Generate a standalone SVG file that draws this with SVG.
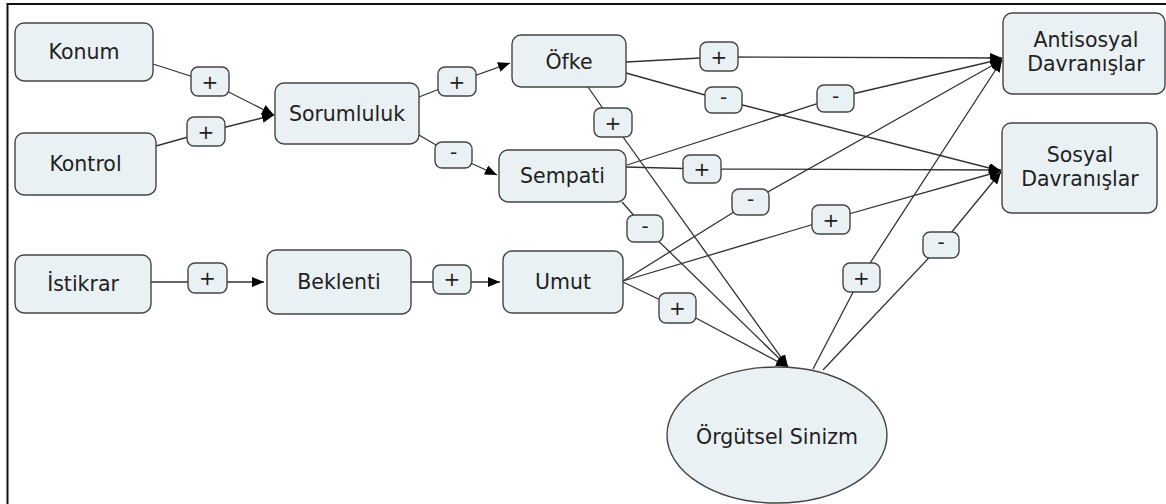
<svg xmlns="http://www.w3.org/2000/svg" width="1166" height="504" viewBox="0 0 1166 504">
<defs>
<marker id="arr" viewBox="0 0 12 10" refX="12" refY="5" markerWidth="12" markerHeight="10" markerUnits="userSpaceOnUse" orient="auto">
<path d="M0,0 L12,5 L0,10 z" fill="#000"/>
</marker>
<style>
.n{fill:#eaf1f4;stroke:#444;stroke-width:1.4}
.t{font-family:"DejaVu Sans",Verdana,sans-serif;font-size:20.5px;fill:#222;text-anchor:middle}
.c{fill:none;stroke:#333;stroke-width:1.3;marker-end:url(#arr)}
.lb{fill:#eaf1f4;stroke:#444;stroke-width:1.4}
.lt{font-family:"DejaVu Sans",Verdana,sans-serif;font-size:20px;fill:#222;text-anchor:middle}
</style>
</defs>
<rect width="1166" height="504" fill="#fff"/>
<path d="M7.5,504 V4 H1166" fill="none" stroke="#111" stroke-width="2"/>

<g id="connectors">
<polyline class="c" points="153,64 209,82 274,115"/>
<polyline class="c" points="156,146 206,132 274,115"/>
<polyline class="c" points="419,97 457,82 510,63"/>
<polyline class="c" points="419,135 453,155 497,175"/>
<polyline class="c" points="151,282 264,282"/>
<polyline class="c" points="411,282 500,282"/>
<polyline class="c" points="626,62 719,57 1002,58"/>
<polyline class="c" points="626,73 723,100 1001,171"/>
<polyline class="c" points="588,87 613,123 788,367"/>
<polyline class="c" points="627,165 835,98 1002,59"/>
<polyline class="c" points="626,167 702,169 1001,170"/>
<polyline class="c" points="622,202 645,228 788,367"/>
<polyline class="c" points="623,281 750,202 1002,60"/>
<polyline class="c" points="623,281 831,219 1001,171"/>
<polyline class="c" points="623,282 677,308 788,367"/>
<polyline class="c" points="813,369 861,277 1002,60"/>
<polyline class="c" points="823,370 941,245 1001,172"/>

<g id="lbl1"><rect class="lb" x="191" y="67" width="38" height="29" rx="7"/><text class="lt" x="210" y="89">+</text></g>
<g id="lbl2"><rect class="lb" x="187" y="117" width="38" height="29" rx="7"/><text class="lt" x="206" y="139">+</text></g>
<g id="lbl3"><rect class="lb" x="438" y="67" width="38" height="29" rx="7"/><text class="lt" x="457" y="89">+</text></g>
<g id="lbl4"><rect class="lb" x="435" y="142" width="37" height="26" rx="7"/><text class="lt" x="453.5" y="159">-</text></g>
<g id="lbl5"><rect class="lb" x="188" y="263" width="39" height="30" rx="7"/><text class="lt" x="207.5" y="285">+</text></g>
<g id="lbl6"><rect class="lb" x="433" y="265" width="38" height="29" rx="7"/><text class="lt" x="452" y="286">+</text></g>
<g id="lbl7"><rect class="lb" x="700" y="42" width="38" height="29" rx="7"/><text class="lt" x="719" y="64">+</text></g>
<g id="lbl8"><rect class="lb" x="705" y="87" width="37" height="26" rx="7"/><text class="lt" x="723.5" y="104">-</text></g>
<g id="lbl9"><rect class="lb" x="594" y="108" width="38" height="29" rx="7"/><text class="lt" x="613" y="130">+</text></g>
<g id="lbl10"><rect class="lb" x="817" y="85" width="37" height="27" rx="7"/><text class="lt" x="835.5" y="103">-</text></g>
<g id="lbl11"><rect class="lb" x="683" y="155" width="38" height="28" rx="7"/><text class="lt" x="702" y="176">+</text></g>
<g id="lbl12"><rect class="lb" x="627" y="215" width="36" height="27" rx="7"/><text class="lt" x="645" y="233">-</text></g>
<g id="lbl13"><rect class="lb" x="732" y="189" width="37" height="26" rx="7"/><text class="lt" x="750.5" y="206">-</text></g>
<g id="lbl14"><rect class="lb" x="812" y="205" width="38" height="29" rx="7"/><text class="lt" x="831" y="227">+</text></g>
<g id="lbl15"><rect class="lb" x="659" y="293" width="37" height="30" rx="7"/><text class="lt" x="677.5" y="315">+</text></g>
<g id="lbl16"><rect class="lb" x="843" y="263" width="37" height="29" rx="7"/><text class="lt" x="861.5" y="285">+</text></g>
<g id="lbl17"><rect class="lb" x="923" y="232" width="36" height="26" rx="7"/><text class="lt" x="941" y="249">-</text></g>
</g>

<g id="konum"><rect class="n" x="15" y="23" width="138" height="58" rx="9"/><text class="t" x="84" y="59">Konum</text></g>
<g id="kontrol"><rect class="n" x="15" y="133" width="141" height="62" rx="9"/><text class="t" x="85.5" y="171">Kontrol</text></g>
<g id="sorumluluk"><rect class="n" x="275" y="83" width="144" height="61" rx="9"/><text class="t" x="347" y="121">Sorumluluk</text></g>
<g id="ofke"><rect class="n" x="512" y="35" width="114" height="52" rx="9"/><text class="t" x="569" y="69">Öfke</text></g>
<g id="sempati"><rect class="n" x="499" y="150" width="127" height="52" rx="9"/><text class="t" x="562.5" y="183">Sempati</text></g>
<g id="istikrar"><rect class="n" x="15" y="255" width="136" height="58" rx="9"/><text class="t" x="83" y="291">İstikrar</text></g>
<g id="beklenti"><rect class="n" x="267" y="250" width="144" height="64" rx="9"/><text class="t" x="339" y="289">Beklenti</text></g>
<g id="umut"><rect class="n" x="503" y="251" width="120" height="62" rx="9"/><text class="t" x="563" y="289">Umut</text></g>
<g id="antisosyal"><rect class="n" x="1003" y="13" width="162" height="81" rx="9"/><text class="t" x="1086" y="47">Antisosyal</text><text class="t" x="1086" y="71">Davranışlar</text></g>
<g id="sosyal"><rect class="n" x="1002" y="123" width="155" height="90" rx="9"/><text class="t" x="1080" y="162">Sosyal</text><text class="t" x="1080" y="186">Davranışlar</text></g>
<g id="orgutsel"><ellipse class="n" cx="777" cy="435" rx="110" ry="68"/><text class="t" x="777" y="444">Örgütsel Sinizm</text></g>
</svg>
